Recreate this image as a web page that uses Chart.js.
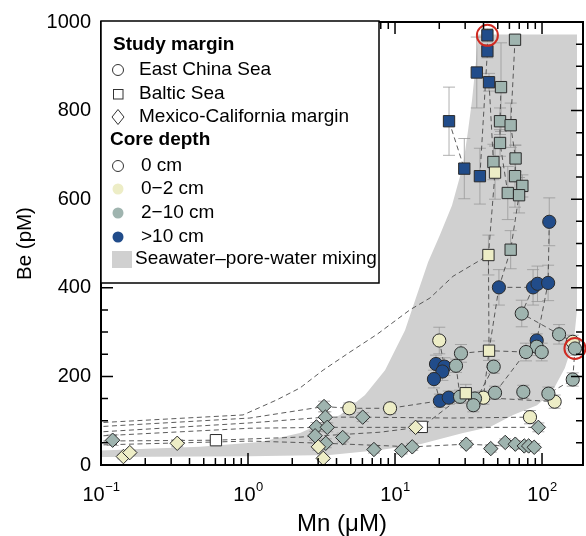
<!DOCTYPE html>
<html>
<head>
<meta charset="utf-8">
<script src="https://cdn.jsdelivr.net/npm/chart.js@4.4.1/dist/chart.umd.min.js"></script>
<style>
  html, body { margin: 0; padding: 0; background: #fff; }
  #wrap { width: 586px; height: 536px; }
</style>
</head>
<body>
<div id="wrap"><canvas id="myChart" width="586" height="536"></canvas></div>
<script>
// depth classes: 0 = 0 cm, 1 = 0-2 cm, 2 = 2-10 cm, 3 = >10 cm
const depthColors = ['#ffffff', '#ededc6', '#9fb4af', '#214c8a']
const bandColor = '#d0d0d0'

// Baltic Sea (squares)
const balticMn = [42.5, 65.5, 42.5, 36.0, 43.6, 52.6, 23.3, 51.8, 61.2, 51.8, 66.1, 46.7, 29.6, 37.8, 47.9, 65.5, 73.5, 58.5, 69.8, 43.2, 61.2, 43.6, 30.3, 15.2, 0.605]
const balticBe = [970, 960, 934, 886, 864, 853, 776, 776, 767, 727, 692, 684, 669, 652, 660, 652, 630, 614, 609, 474, 486, 258, 162, 86, 56]
const balticDepth = [3, 2, 3, 3, 3, 2, 3, 2, 2, 2, 2, 2, 3, 3, 1, 2, 2, 2, 2, 1, 2, 1, 1, 0, 0]
const balticErr = [15, 10, 15, 80, 20, 100, 77, 30, 50, 30, 30, 40, 68, 63, 60, 70, 25, 60, 40, 45, 43, 22, 20, 10, 5]

// East China Sea (circles)
const chinaMn = [20.0, 161.8, 39.9, 121.9, 82.8, 9.25, 4.89,
    112, 50.9, 86.9, 93.2, 110, 92.0, 19.0, 21.7, 21.0, 18.4, 20.2, 23.2,
    72.8, 130.6, 167.5, 92.0, 99.5, 77.8, 28.1, 26.0, 46.9, 161.8, 27.7, 35.0, 34.1, 47.9, 74.6, 110.5]
const chinaBe = [281, 278, 152, 143, 108, 128, 128,
    549, 401, 401, 409, 411, 281, 228, 222, 211, 194, 145, 152,
    342, 295, 263, 267, 255, 255, 252, 224, 222, 193, 154, 150, 135, 163, 165, 161]
const chinaDepth = [1, 1, 1, 1, 1, 1, 1,
    3, 3, 3, 3, 3, 3, 3, 3, 3, 3, 3, 3,
    2, 2, 2, 2, 2, 2, 2, 2, 2, 2, 2, 2, 2, 2, 2, 2]
const chinaErr = [30, 15, 15, 15, 15, 12, 12,
    54, 40, 40, 40, 40, 15, 20, 20, 20, 20, 15, 15,
    30, 22, 15, 20, 20, 20, 20, 15, 15, 15, 15, 15, 15, 15, 15, 15]

// Mexico-California margin (diamonds)
const mexicoMn = [0.120, 3.29, 3.36, 2.92, 3.46, 2.86, 3.38, 4.41, 6.03, 7.19, 11.1, 13.1, 94.4, 30.5, 44.8, 56.2, 65.8, 75.7, 81.1, 88.5,
    0.142, 0.157, 0.330, 3.01, 3.25, 13.8]
const mexicoBe = [56, 132, 108, 86, 85, 66, 49, 62, 108, 35, 33, 41, 85, 47, 37, 51, 47, 43, 43, 40,
    19, 28, 49, 41, 15, 85]
const mexicoDepth = [2, 2, 2, 2, 2, 2, 2, 2, 2, 2, 2, 2, 2, 2, 2, 2, 2, 2, 2, 2,
    1, 1, 1, 1, 1, 1]
const mexicoErr = [12, 12, 12, 10, 10, 10, 10, 10, 10, 8, 8, 8, 10, 8, 8, 8, 8, 8, 8, 8,
    5, 5, 8, 8, 5, 8]

// seawater - pore-water mixing envelope (outline)
const bandMn = [0.09, 0.47, 1.21, 2.26, 4.23, 6.25, 8.55, 11.7, 13.7, 16.8, 20.2, 24.4, 29.0, 31.4, 33.4, 35.6, 36.7,
    173, 173, 165, 143, 117, 92.5, 63.5, 44.3, 29.0, 14.8, 7.9, 3.6, 1.03, 0.09]
const bandBe = [32, 41, 52, 72, 113, 158, 214, 304, 372, 458, 519, 586, 676, 755, 823, 913, 972,
    972, 350, 282, 219, 165, 135, 113, 86, 72, 47, 34, 22.5, 20, 18]

// dashed profile / mixing lines [Mn, Be]
const profileLines = [
    [[0.091, 95], [0.925, 113], [1.57, 147], [2.26, 174], [3.24, 214], [4.94, 255], [7.55, 295], [12.6, 350], [17.3, 377], [24.8, 426], [37.8, 462], [43.2, 474]],
    [[0.091, 86], [1.03, 106], [3.29, 132], [4.89, 128], [9.25, 128], [20.2, 145], [39.9, 152], [121.9, 143]],
    [[0.091, 74], [1.03, 95], [3.36, 108], [6.03, 108], [23.7, 106], [82.8, 108]],
    [[0.091, 65], [1.03, 83], [3.46, 85], [13.8, 85], [94.4, 85]],
    [[0.091, 45], [1.03, 54], [3.38, 49], [13.1, 41], [30.5, 47], [88.5, 40]],
    [[0.091, 54], [0.605, 56], [2.26, 63], [7.9, 74], [15.2, 86], [30.3, 162]],
    [[42.5, 970], [42.5, 934], [37.8, 652]],
    [[43.6, 864], [46.7, 684], [47.9, 660], [43.2, 474], [43.6, 258]],
    [[65.5, 960], [61.2, 767], [66.1, 692], [65.5, 652], [69.8, 609], [61.2, 486], [50.9, 401]],
    [[52.6, 853], [51.8, 776], [51.8, 727], [58.5, 614]],
    [[23.3, 776], [29.6, 669]],
    [[73.5, 630], [69.8, 609]],
    [[112, 549], [110, 411], [92.0, 281]],
    [[50.9, 401], [86.9, 401]],
    [[50.9, 401], [43.6, 258], [39.9, 152]],
    [[28.1, 252], [43.6, 258], [77.8, 255], [47.9, 163]],
    [[86.9, 401], [72.8, 342], [130.6, 295], [161.8, 278]],
    [[20.0, 281], [21.7, 222]],
    [[19.0, 228], [18.4, 194], [20.2, 145]],
    [[26.0, 224], [27.7, 154]],
    [[46.9, 222], [34.1, 135]],
    [[167.5, 263], [161.8, 193], [110.5, 161], [121.9, 143]]
]

// circled samples
const markedMn = [42.5, 167.5]
const markedBe = [970, 263]

const xTickExps = [-1, 0, 1, 2]
const yTickStep = 200

const FONT = '"Liberation Sans", Arial, Helvetica, sans-serif'
Chart.defaults.font.family = FONT
Chart.defaults.color = '#000'

function pts(xs, ys) {
    return xs.map((x, i) => ({ x: x, y: ys[i] }))
}

const errorGroups = [
    { mn: chinaMn, be: chinaBe, err: chinaErr },
    { mn: balticMn, be: balticBe, err: balticErr },
    { mn: mexicoMn, be: mexicoBe, err: mexicoErr }
]

const datasets = []

datasets.push({
    label: 'band',
    type: 'line',
    data: pts(bandMn, bandBe),
    fill: 'shape',
    backgroundColor: bandColor,
    borderWidth: 0,
    pointRadius: 0,
    order: 10
})

profileLines.forEach(line => {
    datasets.push({
        label: 'profile',
        type: 'line',
        data: line.map(p => ({ x: p[0], y: p[1] })),
        fill: false,
        borderColor: '#4a4a4a',
        borderWidth: 0.9,
        borderDash: [5, 3.5],
        pointRadius: 0,
        order: 5
    })
})

datasets.push({
    label: 'East China Sea',
    type: 'scatter',
    data: pts(chinaMn, chinaBe),
    pointStyle: 'circle',
    pointRadius: 6.6,
    pointBackgroundColor: chinaDepth.map(d => depthColors[d]),
    pointBorderColor: '#2b2b2b',
    pointBorderWidth: 1,
    order: 3
})

datasets.push({
    label: 'Baltic Sea',
    type: 'scatter',
    data: pts(balticMn, balticBe),
    pointStyle: 'rect',
    pointRadius: 8,
    pointBackgroundColor: balticDepth.map(d => depthColors[d]),
    pointBorderColor: '#2b2b2b',
    pointBorderWidth: 1,
    order: 2
})

datasets.push({
    label: 'Mexico-California margin',
    type: 'scatter',
    data: pts(mexicoMn, mexicoBe),
    pointStyle: 'rectRot',
    pointRadius: 7.2,
    pointBackgroundColor: mexicoDepth.map(d => depthColors[d]),
    pointBorderColor: '#2b2b2b',
    pointBorderWidth: 1,
    order: 1
})

datasets.push({
    label: 'marked',
    type: 'scatter',
    data: pts(markedMn, markedBe),
    pointStyle: 'circle',
    pointRadius: 10.5,
    pointBackgroundColor: 'rgba(0,0,0,0)',
    pointBorderColor: '#cf2a22',
    pointBorderWidth: 2,
    clip: false,
    order: 0
})

const errorBars = {
    id: 'errorBars',
    afterDatasetDraw(chart, args) {
        if (chart.data.datasets[args.index].label !== 'band') return
        const ctx = chart.ctx
        const xs = chart.scales.x, ys = chart.scales.y
        const area = chart.chartArea
        ctx.save()
        ctx.beginPath()
        ctx.rect(area.left, area.top, area.right - area.left, area.bottom - area.top)
        ctx.clip()
        ctx.strokeStyle = 'rgba(150,150,150,0.75)'
        ctx.lineWidth = 1
        errorGroups.forEach(g => {
            g.mn.forEach((mn, i) => {
                const e = g.err[i]
                if (!e) return
                const px = xs.getPixelForValue(mn)
                const y1 = ys.getPixelForValue(g.be[i] - e)
                const y2 = ys.getPixelForValue(g.be[i] + e)
                ctx.beginPath()
                ctx.moveTo(px, y1); ctx.lineTo(px, y2)
                ctx.moveTo(px - 6, y1); ctx.lineTo(px + 6, y1)
                ctx.moveTo(px - 6, y2); ctx.lineTo(px + 6, y2)
                ctx.stroke()
            })
        })
        ctx.restore()
    }
}

function drawDiamond(ctx, x, y, hw, hh) {
    ctx.beginPath()
    ctx.moveTo(x, y - hh); ctx.lineTo(x + hw, y); ctx.lineTo(x, y + hh); ctx.lineTo(x - hw, y)
    ctx.closePath()
}

const frame = {
    id: 'frame',
    afterDraw(chart) {
        const ctx = chart.ctx
        const xs = chart.scales.x, ys = chart.scales.y
        const { left, right, top, bottom } = chart.chartArea
        ctx.save()
        ctx.strokeStyle = '#000'
        ctx.lineWidth = 1.5
        // log ticks, inward, bottom and top
        for (let k = -1; k <= 2; k++) {
            for (let m = 1; m <= 9; m++) {
                const v = m * Math.pow(10, k)
                if (v < xs.min || v > xs.max) continue
                const px = xs.getPixelForValue(v)
                const len = m === 1 ? 12 : 7
                ctx.beginPath()
                ctx.moveTo(px, bottom); ctx.lineTo(px, bottom - len)
                ctx.moveTo(px, top); ctx.lineTo(px, top + len)
                ctx.stroke()
            }
        }
        for (let v = 0; v <= 1000; v += 50) {
            const py = ys.getPixelForValue(v)
            const len = v % yTickStep === 0 ? 12 : 7
            ctx.beginPath()
            ctx.moveTo(left, py); ctx.lineTo(left + len, py)
            ctx.moveTo(right, py); ctx.lineTo(right - len, py)
            ctx.stroke()
        }
        ctx.lineWidth = 2
        ctx.strokeRect(left, top, right - left, bottom - top)

        // x tick labels 10^k
        ctx.fillStyle = '#000'
        ctx.textBaseline = 'alphabetic'
        ctx.textAlign = 'left'
        xTickExps.forEach(k => {
            const px = xs.getPixelForValue(Math.pow(10, k))
            const base = '10'
            const sup = k < 0 ? '\u2212' + (-k) : String(k)
            ctx.font = '20px ' + FONT
            const wb = ctx.measureText(base).width
            ctx.font = '13px ' + FONT
            const ws = ctx.measureText(sup).width
            const x0 = px - (wb + ws) / 2
            ctx.font = '20px ' + FONT
            ctx.fillText(base, x0, 501)
            ctx.font = '13px ' + FONT
            ctx.fillText(sup, x0 + wb + 0.5, 491)
        })

        // legend box
        const lx = 101, ly = 21, lw = 278, lh = 262
        ctx.fillStyle = '#fff'
        ctx.fillRect(lx, ly, lw, lh)
        ctx.lineWidth = 1.5
        ctx.strokeStyle = '#000'
        ctx.strokeRect(lx, ly, lw, lh)

        ctx.textBaseline = 'middle'
        ctx.fillStyle = '#000'
        ctx.font = 'bold 19px ' + FONT
        ctx.fillText('Study margin', 113, 45)
        ctx.fillText('Core depth', 110, 140)

        ctx.font = '19px ' + FONT
        ctx.strokeStyle = '#333'
        ctx.lineWidth = 1
        // shapes
        ctx.beginPath(); ctx.arc(118, 70, 5.5, 0, Math.PI * 2); ctx.stroke()
        ctx.strokeRect(113.5, 89.5, 9.5, 9.5)
        drawDiamond(ctx, 118, 117, 6, 7.5); ctx.stroke()
        ctx.fillText('East China Sea', 139, 70)
        ctx.fillText('Baltic Sea', 139, 94)
        ctx.fillText('Mexico-California margin', 139, 117)

        const depthRows = [['0 cm', 166], ['0\u22122 cm', 189], ['2\u221210 cm', 213], ['>10 cm', 237]]
        depthRows.forEach((row, i) => {
            ctx.beginPath(); ctx.arc(118, row[1], 5.5, 0, Math.PI * 2)
            ctx.fillStyle = depthColors[i]
            ctx.fill()
            if (i === 0) ctx.stroke()
            ctx.fillStyle = '#000'
            ctx.fillText(row[0], 141, row[1])
        })
        ctx.fillStyle = bandColor
        ctx.fillRect(112, 251, 20, 17)
        ctx.fillStyle = '#000'
        ctx.fillText('Seawater\u2013pore-water mixing', 135, 259)
        ctx.restore()
    }
}

const ctx = document.getElementById('myChart').getContext('2d')
const myChart = new Chart(ctx, {
    type: 'scatter',
    data: { datasets: datasets },
    plugins: [errorBars, frame],
    options: {
        responsive: false,
        animation: false,
        events: [],
        layout: { autoPadding: false, padding: { left: 0, right: 3, top: 21, bottom: 0 } },
        plugins: {
            legend: { display: false },
            tooltip: { enabled: false }
        },
        scales: {
            x: {
                type: 'logarithmic',
                min: 0.1,
                max: 190,
                grid: { display: false, drawTicks: false },
                border: { display: false },
                ticks: { display: false },
                title: {
                    display: true,
                    text: 'Mn (\u03bcM)',
                    font: { size: 24, lineHeight: 1 },
                    padding: { top: 0, bottom: 0 }
                },
                afterFit: function (scale) { scale.height = 71 }
            },
            y: {
                min: 0,
                max: 1000,
                grid: { display: false, drawTicks: false },
                border: { display: false },
                ticks: {
                    stepSize: yTickStep,
                    font: { size: 20 },
                    padding: 10,
                    color: '#000',
                    callback: v => String(v)
                },
                title: {
                    display: true,
                    text: 'Be (pM)',
                    font: { size: 20.5, lineHeight: 1 },
                    padding: { top: 15, bottom: 0 }
                },
                afterFit: function (scale) { scale.width = 101 }
            }
        }
    }
})
</script>
</body>
</html>
